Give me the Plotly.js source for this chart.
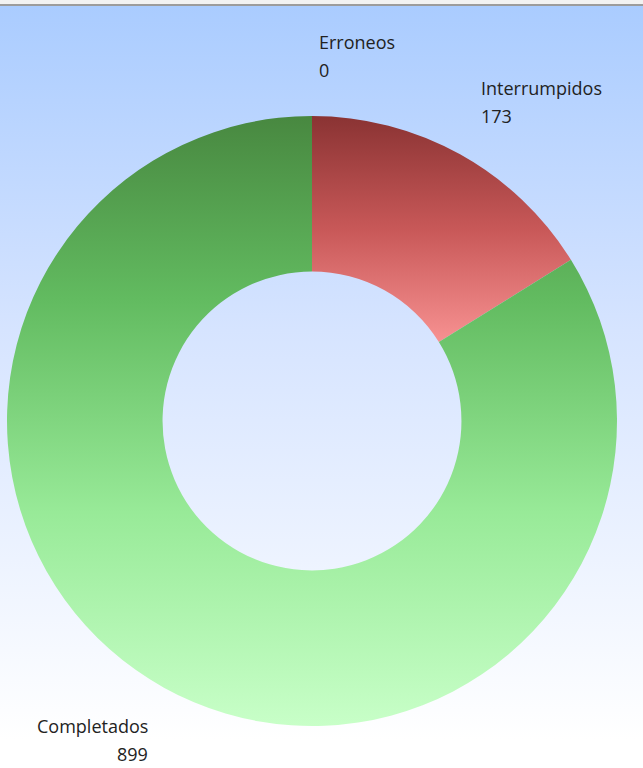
<!DOCTYPE html>
<html>
<head>
<meta charset="utf-8">
<script src="https://cdn.plot.ly/plotly-3.0.1.min.js"></script>
<style>
html, body { margin: 0; padding: 0; width: 643px; height: 768px; overflow: hidden; }
body {
  background: linear-gradient(to bottom, #f2f2f2 0px, #f2f2f2 4px, #9c9c9c 4px, #9c9c9c 6px, #aaccff 6px, #d6e4ff 330px, #ffffff 740px, #ffffff 768px);
}
#chart { width: 643px; height: 768px; }
</style>
</head>
<body>
<div id="chart"></div>
<script>
// ---- data ----
const categories = ["Erroneos", "Interrumpidos", "Completados"];
const values = [0, 173, 899];

// ---- styling ----
const W = 643, H = 768;
const cx = 312, cy = 421, R = 305, labelRx = 334, labelRy = 365;
const gradients = [
  [["0", "#7a7a7a"], ["1", "#bbbbbb"]],
  [["0", "#8a3333"], ["0.5", "#c85858"], ["1", "#f79191"]],
  [["0", "#488840"], ["0.3", "#62bb60"], ["0.65", "#98ea98"], ["1", "#c8ffc8"]]
];
const baseColors = ["#999999", "#c85858", "#7ed87e"];

const total = values.reduce((a, b) => a + b, 0);
const annotations = [];
let cum = 0;
values.forEach((v, i) => {
  const mid = (cum + v / 2) / total * 2 * Math.PI; // clockwise from top
  cum += v;
  const px = cx + labelRx * Math.sin(mid);
  const py = cy - labelRy * Math.cos(mid);
  const right = Math.sin(mid) >= -0.001;
  const common = {
    xref: "paper", yref: "paper", showarrow: false,
    xanchor: right ? "left" : "right", yanchor: "middle",
    align: right ? "left" : "right",
    font: { family: "Open Sans, Noto Sans, sans-serif", size: 18, color: "#222222" }
  };
  const xoff = right ? 5 : 0;
  annotations.push(Object.assign({}, common, {
    x: (px + xoff) / W, y: 1 - (py - 14) / H, text: categories[i]
  }));
  annotations.push(Object.assign({}, common, {
    x: (px + xoff) / W, y: 1 - (py + 14) / H, text: String(values[i])
  }));
});

const trace = {
  type: "pie",
  labels: categories,
  values: values,
  hole: 0.49,
  sort: false,
  direction: "clockwise",
  rotation: 0,
  textinfo: "none",
  hoverinfo: "label+value",
  marker: { colors: baseColors, line: { width: 0 } },
  showlegend: false,
  domain: { x: [(cx - R) / W, (cx + R) / W], y: [(H - cy - R) / H, (H - cy + R) / H] }
};

const layout = {
  width: W, height: H,
  margin: { l: 0, r: 0, t: 0, b: 0 },
  paper_bgcolor: "rgba(0,0,0,0)",
  plot_bgcolor: "rgba(0,0,0,0)",
  showlegend: false,
  annotations: annotations
};

Plotly.newPlot("chart", [trace], layout, { staticPlot: true, displayModeBar: false }).then(gd => {
  const svgNS = "http://www.w3.org/2000/svg";
  const svg = gd.querySelector("svg.main-svg");
  let defs = svg.querySelector("defs");
  if (!defs) { defs = document.createElementNS(svgNS, "defs"); svg.insertBefore(defs, svg.firstChild); }
  gradients.forEach((stops, i) => {
    const lg = document.createElementNS(svgNS, "linearGradient");
    lg.setAttribute("id", "sliceGrad" + i);
    lg.setAttribute("x1", "0"); lg.setAttribute("y1", "0");
    lg.setAttribute("x2", "0"); lg.setAttribute("y2", "1");
    stops.forEach(([o, c]) => {
      const s = document.createElementNS(svgNS, "stop");
      s.setAttribute("offset", o);
      s.setAttribute("stop-color", c);
      lg.appendChild(s);
    });
    defs.appendChild(lg);
  });
  const slices = gd.querySelectorAll("g.slice");
  slices.forEach(sl => {
    const d = sl.__data__;
    const idx = d && d.i !== undefined ? d.i : (d && d.pts ? d.pts[0] : 0);
    const path = sl.querySelector("path.surface");
    if (path) path.style.fill = "url(#sliceGrad" + idx + ")";
  });
});
</script>
</body>
</html>
